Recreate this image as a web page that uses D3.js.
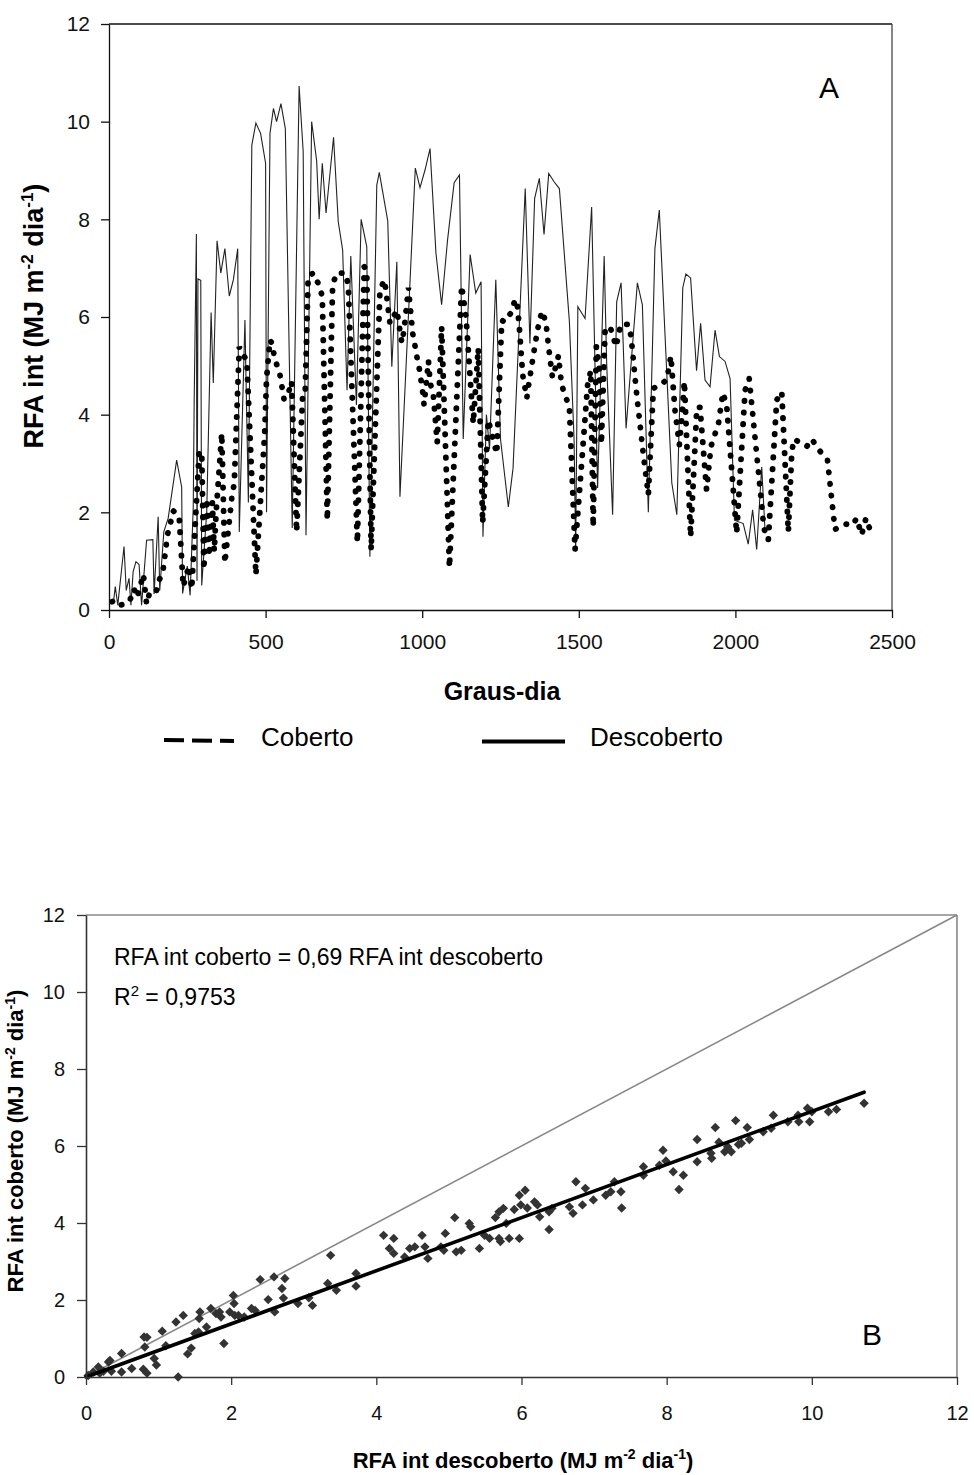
<!DOCTYPE html>
<html>
<head>
<meta charset="utf-8">
<script src="https://cdn.jsdelivr.net/npm/d3@7"></script>
<style>
  html, body { margin: 0; padding: 0; background: #fff; }
  svg { display: block; font-family: "Liberation Sans", Arial, sans-serif; }
</style>
</head>
<body>
<svg id="chart" width="974" height="1475"></svg>
<script>
// ---- Grafico A : RFA interceptada ao longo dos graus-dia ----
// [graus-dia, RFA int]
const descoberto = [
  [5,0.15],[15,0.2],[20,0.48],[28,0.1],[48,1.3],[55,0.4],[64,0.65],[70,0.1],[77,0.78],[86,0.99],
  [96,0.93],[104,0.1],[120,1.43],[140,1.44],[144,0.33],[157,1.91],[162,0.4],[175,1.6],[189,1.88],[216,3.07],
  [232,2.52],[235,0.34],[250,0.9],[259,0.3],[269,2.11],[272,4.3],[279,7.7],[281,0.6],[284,6.78],[293,6.75],
  [296,0.5],[312,2.0],[326,6.09],[333,4.65],[345,7.56],[357,6.9],[370,7.4],[384,6.43],[397,6.76],[411,7.4],
  [416,1.6],[434,5.94],[445,2.2],[456,9.52],[469,9.97],[484,9.76],[500,9.15],[503,2.0],[514,9.76],[525,10.27],
  [535,10.0],[549,10.37],[563,9.86],[585,1.68],[607,10.73],[620,9.39],[629,1.53],[647,10.0],[663,9.2],[671,8.0],
  [681,9.15],[693,8.13],[717,9.68],[732,7.95],[746,7.37],[760,4.5],[772,7.25],[790,4.2],[805,8.0],[823,7.44],
  [833,1.09],[855,8.7],[863,8.96],[890,7.97],[903,4.98],[919,7.13],[929,2.32],[978,9.05],[993,8.65],[1009,9.01],
  [1025,9.45],[1044,7.3],[1062,6.25],[1081,7.58],[1102,8.75],[1119,8.91],[1131,3.5],[1153,7.28],[1171,6.49],[1188,6.72],
  [1194,1.5],[1205,4.0],[1215,3.3],[1235,6.76],[1250,3.5],[1275,2.11],[1290,2.9],[1329,8.63],[1344,5.46],[1359,8.43],
  [1374,8.84],[1389,7.69],[1404,8.94],[1421,8.77],[1438,8.63],[1470,5.9],[1485,3.48],[1490,1.2],[1497,6.21],[1520,5.97],
  [1541,8.25],[1560,2.5],[1581,7.25],[1589,5.05],[1608,1.95],[1621,6.31],[1635,6.7],[1651,3.72],[1687,6.7],[1703,6.25],
  [1722,2.0],[1743,7.4],[1757,8.19],[1797,2.6],[1813,1.95],[1832,6.6],[1842,6.88],[1857,6.8],[1876,4.9],[1889,5.87],
  [1903,4.71],[1919,4.57],[1935,5.73],[1949,5.19],[1967,5.09],[1983,4.74],[1997,1.84],[2025,1.77],[2041,1.35],[2055,2.05],
  [2068,1.24],[2084,2.93],[2095,1.57]
];
const coberto = [
  [10,0.17],[20,0.2],[35,0.1],[50,0.12],[65,0.17],[80,0.43],[90,0.26],[100,0.5],[110,0.73],[120,0.12],
  [130,0.36],[150,0.36],[160,0.6],[173,0.83],[187,1.55],[197,1.8],[205,2.03],[224,1.92],[237,0.48],[255,0.9],
  [264,0.43],[288,3.24],[296,3.24],[303,0.83],[312,2.28],[320,1.1],[330,2.2],[336,1.2],[342,2.0],[360,3.62],
  [370,0.96],[392,2.3],[400,2.6],[416,5.39],[425,5.25],[440,5.12],[469,0.72],[497,3.6],[503,4.74],[514,5.53],
  [523,5.43],[527,5.2],[546,4.81],[559,4.31],[574,4.47],[583,4.68],[599,1.6],[618,4.34],[626,4.37],[636,6.83],
  [652,6.9],[670,6.66],[681,6.42],[697,1.84],[714,6.66],[727,6.9],[754,6.9],[764,6.66],[793,1.38],[815,7.03],
  [823,6.93],[837,1.23],[865,6.52],[878,6.76],[883,6.6],[897,5.87],[919,6.14],[935,5.47],[942,5.73],[956,6.6],
  [970,5.65],[977,5.41],[984,5.15],[991,4.93],[1002,4.45],[1006,4.2],[1020,5.1],[1025,4.67],[1036,4.37],[1048,3.43],
  [1062,5.8],[1087,0.87],[1126,6.64],[1131,6.42],[1140,6.0],[1163,3.82],[1179,5.36],[1193,1.78],[1211,3.89],[1238,3.2],
  [1254,5.93],[1264,5.9],[1287,6.12],[1296,6.36],[1303,6.3],[1310,5.8],[1321,4.81],[1334,4.34],[1339,4.57],[1355,5.22],
  [1368,5.73],[1382,6.12],[1395,5.9],[1403,5.41],[1416,4.76],[1430,5.06],[1435,5.21],[1445,4.61],[1458,4.37],[1470,4.15],
  [1488,1.23],[1528,4.6],[1538,4.9],[1546,1.7],[1556,5.4],[1565,5.0],[1572,3.4],[1584,5.75],[1600,5.8],[1619,5.39],
  [1634,5.85],[1658,5.85],[1667,5.6],[1685,4.4],[1706,3.19],[1722,2.36],[1738,4.54],[1762,4.61],[1781,4.72],[1794,5.2],
  [1807,4.1],[1821,3.38],[1830,4.0],[1837,4.68],[1857,1.5],[1877,4.15],[1887,4.15],[1908,2.46],[1922,3.35],[1946,3.82],
  [1960,4.45],[1972,4.2],[2004,1.57],[2031,4.5],[2044,4.74],[2084,2.15],[2091,1.67],[2105,1.43],[2132,4.3],[2148,4.47],
  [2169,1.6],[2180,3.24],[2187,3.5],[2206,3.43],[2228,3.35],[2244,3.5],[2265,3.29],[2294,3.07],[2318,1.65],[2350,1.76],
  [2375,1.74],[2387,1.88],[2403,1.54],[2417,1.88],[2430,1.64]
];
const ticksA_x = [0, 500, 1000, 1500, 2000, 2500];
const ticksA_y = [0, 2, 4, 6, 8, 10, 12];

// ---- Grafico B : coberto x descoberto ----
// [RFA int descoberto, RFA int coberto]
const pares = [
  [0.03,0.04],[0.1,0.13],[0.17,0.26],[0.19,0.1],[0.24,0.15],[0.31,0.39],[0.33,0.43],[0.35,0.15],[0.49,0.61],[0.49,0.13],
  [0.63,0.22],[0.8,1.04],[0.84,1.03],[0.81,0.78],[0.79,0.2],[0.84,0.1],[0.94,0.48],[0.97,0.31],[1.05,1.19],[1.1,0.81],
  [1.24,1.43],[1.34,1.6],[1.27,0.0],[1.4,0.6],[1.45,0.75],[1.5,1.13],[1.55,1.17],[1.56,1.52],[1.57,1.69],[1.66,1.3],
  [1.72,1.78],[1.79,1.65],[1.84,1.69],[1.86,1.56],[1.9,0.87],[1.98,1.69],[2.03,2.12],[2.04,1.91],[2.05,1.6],[2.1,1.6],
  [2.18,1.56],[2.28,1.78],[2.33,1.73],[2.4,2.53],[2.51,2.01],[2.6,1.69],[2.59,2.6],[2.7,2.3],[2.74,2.56],[2.72,2.05],
  [2.92,1.91],[3.07,2.06],[3.12,1.86],[3.33,2.43],[3.37,3.16],[3.45,2.25],[3.72,2.69],[3.72,2.36],[4.1,3.68],[4.24,3.6],
  [4.18,3.34],[4.24,3.21],[4.39,3.12],[4.46,3.34],[4.53,3.38],[4.63,3.68],[4.67,3.38],[4.71,3.08],[4.89,3.38],[4.95,3.73],
  [4.93,3.29],[5.08,4.14],[5.1,3.25],[5.17,3.29],[5.28,3.99],[5.3,3.9],[5.42,3.34],[5.49,3.68],[5.56,3.6],[5.64,4.14],
  [5.69,4.29],[5.75,4.38],[5.69,3.6],[5.71,3.52],[5.83,3.6],[5.97,3.6],[5.79,3.99],[5.9,4.35],[5.97,4.72],[6.05,4.85],
  [5.99,4.47],[6.08,4.39],[6.18,4.55],[6.22,4.47],[6.25,4.16],[6.38,3.83],[6.38,4.29],[6.42,4.38],[6.66,4.42],[6.71,4.25],
  [6.75,5.07],[6.84,4.47],[6.88,4.9],[6.99,4.6],[7.16,4.72],[7.23,4.81],[7.37,4.81],[7.38,4.39],[7.28,5.07],[7.68,5.46],
  [7.68,5.24],[7.9,5.5],[7.95,5.89],[7.99,5.61],[8.09,5.33],[8.23,5.24],[8.17,4.87],[8.42,6.17],[8.42,5.59],[8.61,5.81],
  [8.62,5.68],[8.67,6.48],[8.72,6.1],[8.8,5.85],[8.84,5.98],[8.89,5.85],[8.95,6.66],[8.99,6.04],[9.03,6.07],[9.11,6.48],
  [9.14,6.17],[9.33,6.37],[9.44,6.46],[9.47,6.8],[9.67,6.63],[9.82,6.63],[9.81,6.8],[9.94,6.98],[9.97,6.63],[10.0,6.89],
  [10.23,6.89],[10.34,6.95],[10.72,7.11]
];
const ticksB = [0, 2, 4, 6, 8, 10, 12];
const slope = 0.69;       // RFA int coberto = 0,69 RFA int descoberto
const xFimReg = 10.72;    // fim da reta ajustada

const svg = d3.select("#chart");
const fmt = d3.format("d");

/* ------------------------- A ------------------------- */
const xA = d3.scaleLinear().domain([0, 2500]).range([109, 892]);
const yA = d3.scaleLinear().domain([0, 12]).range([610, 24]);
const gA = svg.append("g");

// moldura (topo e direita)
gA.append("line").attr("x1", xA(0)).attr("x2", xA(2500)).attr("y1", yA(12)).attr("y2", yA(12))
  .attr("stroke", "#111").attr("stroke-width", 1.3);
gA.append("line").attr("x1", xA(2500)).attr("x2", xA(2500)).attr("y1", yA(12)).attr("y2", yA(0))
  .attr("stroke", "#444").attr("stroke-width", 1.3);

const lineA = d3.line().x(d => xA(d[0])).y(d => yA(d[1]));

gA.append("path").datum(descoberto).attr("d", lineA)
  .attr("fill", "none").attr("stroke", "#222").attr("stroke-width", 1.1)
  .attr("stroke-linejoin", "miter");

gA.append("path").datum(coberto).attr("d", lineA)
  .attr("fill", "none").attr("stroke", "#000").attr("stroke-width", 5.8)
  .attr("stroke-linecap", "round").attr("stroke-dasharray", "0.4 11.3");

const axA_x = gA.append("g").attr("transform", `translate(0,${yA(0)})`)
  .call(d3.axisBottom(xA).tickValues(ticksA_x).tickFormat(fmt).tickSize(8).tickPadding(16).tickSizeOuter(0));
const axA_y = gA.append("g").attr("transform", `translate(${xA(0)},0)`)
  .call(d3.axisLeft(yA).tickValues(ticksA_y).tickFormat(fmt).tickSize(8).tickPadding(11).tickSizeOuter(0));
[axA_x, axA_y].forEach(ax => {
  ax.select(".domain").attr("stroke", "#111").attr("stroke-width", 1.3);
  ax.selectAll(".tick line").attr("stroke", "#111").attr("stroke-width", 1.3);
  ax.selectAll(".tick text").attr("font-size", 21).attr("fill", "#111")
    .attr("font-family", "Liberation Sans, Arial, sans-serif");
});

gA.append("text").attr("x", 502).attr("y", 700).attr("text-anchor", "middle")
  .attr("font-size", 25).attr("font-weight", "bold").text("Graus-dia");

const tA = gA.append("text").attr("transform", "translate(43,316) rotate(-90)")
  .attr("text-anchor", "middle").attr("font-size", 27).attr("font-weight", "bold");
tA.append("tspan").text("RFA int (MJ m");
tA.append("tspan").attr("font-size", 17).attr("dy", -10).text("-2");
tA.append("tspan").attr("dy", 10).text(" dia");
tA.append("tspan").attr("font-size", 17).attr("dy", -10).text("-1");
tA.append("tspan").attr("dy", 10).text(")");

gA.append("text").attr("x", 829).attr("y", 98).attr("text-anchor", "middle")
  .attr("font-size", 30).text("A");

// legenda
gA.append("line").attr("x1", 164).attr("x2", 234).attr("y1", 740).attr("y2", 741)
  .attr("stroke", "#000").attr("stroke-width", 4).attr("stroke-dasharray", "20 8");
gA.append("text").attr("x", 261).attr("y", 746).attr("font-size", 26).text("Coberto");
gA.append("line").attr("x1", 482).attr("x2", 565).attr("y1", 741.5).attr("y2", 741.5)
  .attr("stroke", "#000").attr("stroke-width", 4);
gA.append("text").attr("x", 590).attr("y", 746).attr("font-size", 26).text("Descoberto");

/* ------------------------- B ------------------------- */
const xB = d3.scaleLinear().domain([0, 12]).range([86, 957]);
const yB = d3.scaleLinear().domain([0, 12]).range([1377, 915]);
const gB = svg.append("g");

gB.append("line").attr("x1", xB(0)).attr("x2", xB(12)).attr("y1", yB(12)).attr("y2", yB(12))
  .attr("stroke", "#888").attr("stroke-width", 1.6);
gB.append("line").attr("x1", xB(12)).attr("x2", xB(12)).attr("y1", yB(12)).attr("y2", yB(0))
  .attr("stroke", "#888").attr("stroke-width", 1.6);

// reta 1:1
gB.append("line").attr("x1", xB(0)).attr("y1", yB(0)).attr("x2", xB(12)).attr("y2", yB(12))
  .attr("stroke", "#888").attr("stroke-width", 1.6);

const diamond = d3.symbol().type(d3.symbolSquare).size(44);
gB.append("g").selectAll("path").data(pares).join("path")
  .attr("d", diamond)
  .attr("transform", d => `translate(${xB(d[0])},${yB(d[1])}) rotate(45)`)
  .attr("fill", "#333");

// reta ajustada
gB.append("line").attr("x1", xB(0)).attr("y1", yB(0))
  .attr("x2", xB(xFimReg)).attr("y2", yB(slope * xFimReg))
  .attr("stroke", "#000").attr("stroke-width", 3.6).attr("stroke-linecap", "round");

const axB_x = gB.append("g").attr("transform", `translate(0,${yB(0)})`)
  .call(d3.axisBottom(xB).tickValues(ticksB).tickFormat(fmt).tickSize(8).tickPadding(21).tickSizeOuter(0));
const axB_y = gB.append("g").attr("transform", `translate(${xB(0)},0)`)
  .call(d3.axisLeft(yB).tickValues(ticksB).tickFormat(fmt).tickSize(9).tickPadding(12).tickSizeOuter(0));
[axB_x, axB_y].forEach(ax => {
  ax.select(".domain").attr("stroke", "#333").attr("stroke-width", 1.6);
  ax.selectAll(".tick line").attr("stroke", "#333").attr("stroke-width", 1.3);
  ax.selectAll(".tick text").attr("font-size", 20).attr("fill", "#111")
    .attr("font-family", "Liberation Sans, Arial, sans-serif");
});

const tBx = gB.append("text").attr("x", 523).attr("y", 1468).attr("text-anchor", "middle")
  .attr("font-size", 22).attr("font-weight", "bold");
tBx.append("tspan").text("RFA int descoberto (MJ m");
tBx.append("tspan").attr("font-size", 14).attr("dy", -9).text("-2");
tBx.append("tspan").attr("dy", 9).text(" dia");
tBx.append("tspan").attr("font-size", 14).attr("dy", -9).text("-1");
tBx.append("tspan").attr("dy", 9).text(")");

const tBy = gB.append("text").attr("transform", "translate(23,1141) rotate(-90)")
  .attr("text-anchor", "middle").attr("font-size", 22).attr("font-weight", "bold");
tBy.append("tspan").text("RFA int coberto (MJ m");
tBy.append("tspan").attr("font-size", 14).attr("dy", -8).text("-2");
tBy.append("tspan").attr("dy", 8).text(" dia");
tBy.append("tspan").attr("font-size", 14).attr("dy", -8).text("-1");
tBy.append("tspan").attr("dy", 8).text(")");

gB.append("text").attr("x", 114).attr("y", 965).attr("font-size", 23)
  .text("RFA int coberto = 0,69 RFA int descoberto");
const r2 = gB.append("text").attr("x", 114).attr("y", 1005).attr("font-size", 23);
r2.append("tspan").text("R");
r2.append("tspan").attr("font-size", 15).attr("dy", -9).text("2");
r2.append("tspan").attr("dy", 9).text(" = 0,9753");

gB.append("text").attr("x", 872).attr("y", 1345).attr("text-anchor", "middle")
  .attr("font-size", 30).text("B");
</script>
</body>
</html>
